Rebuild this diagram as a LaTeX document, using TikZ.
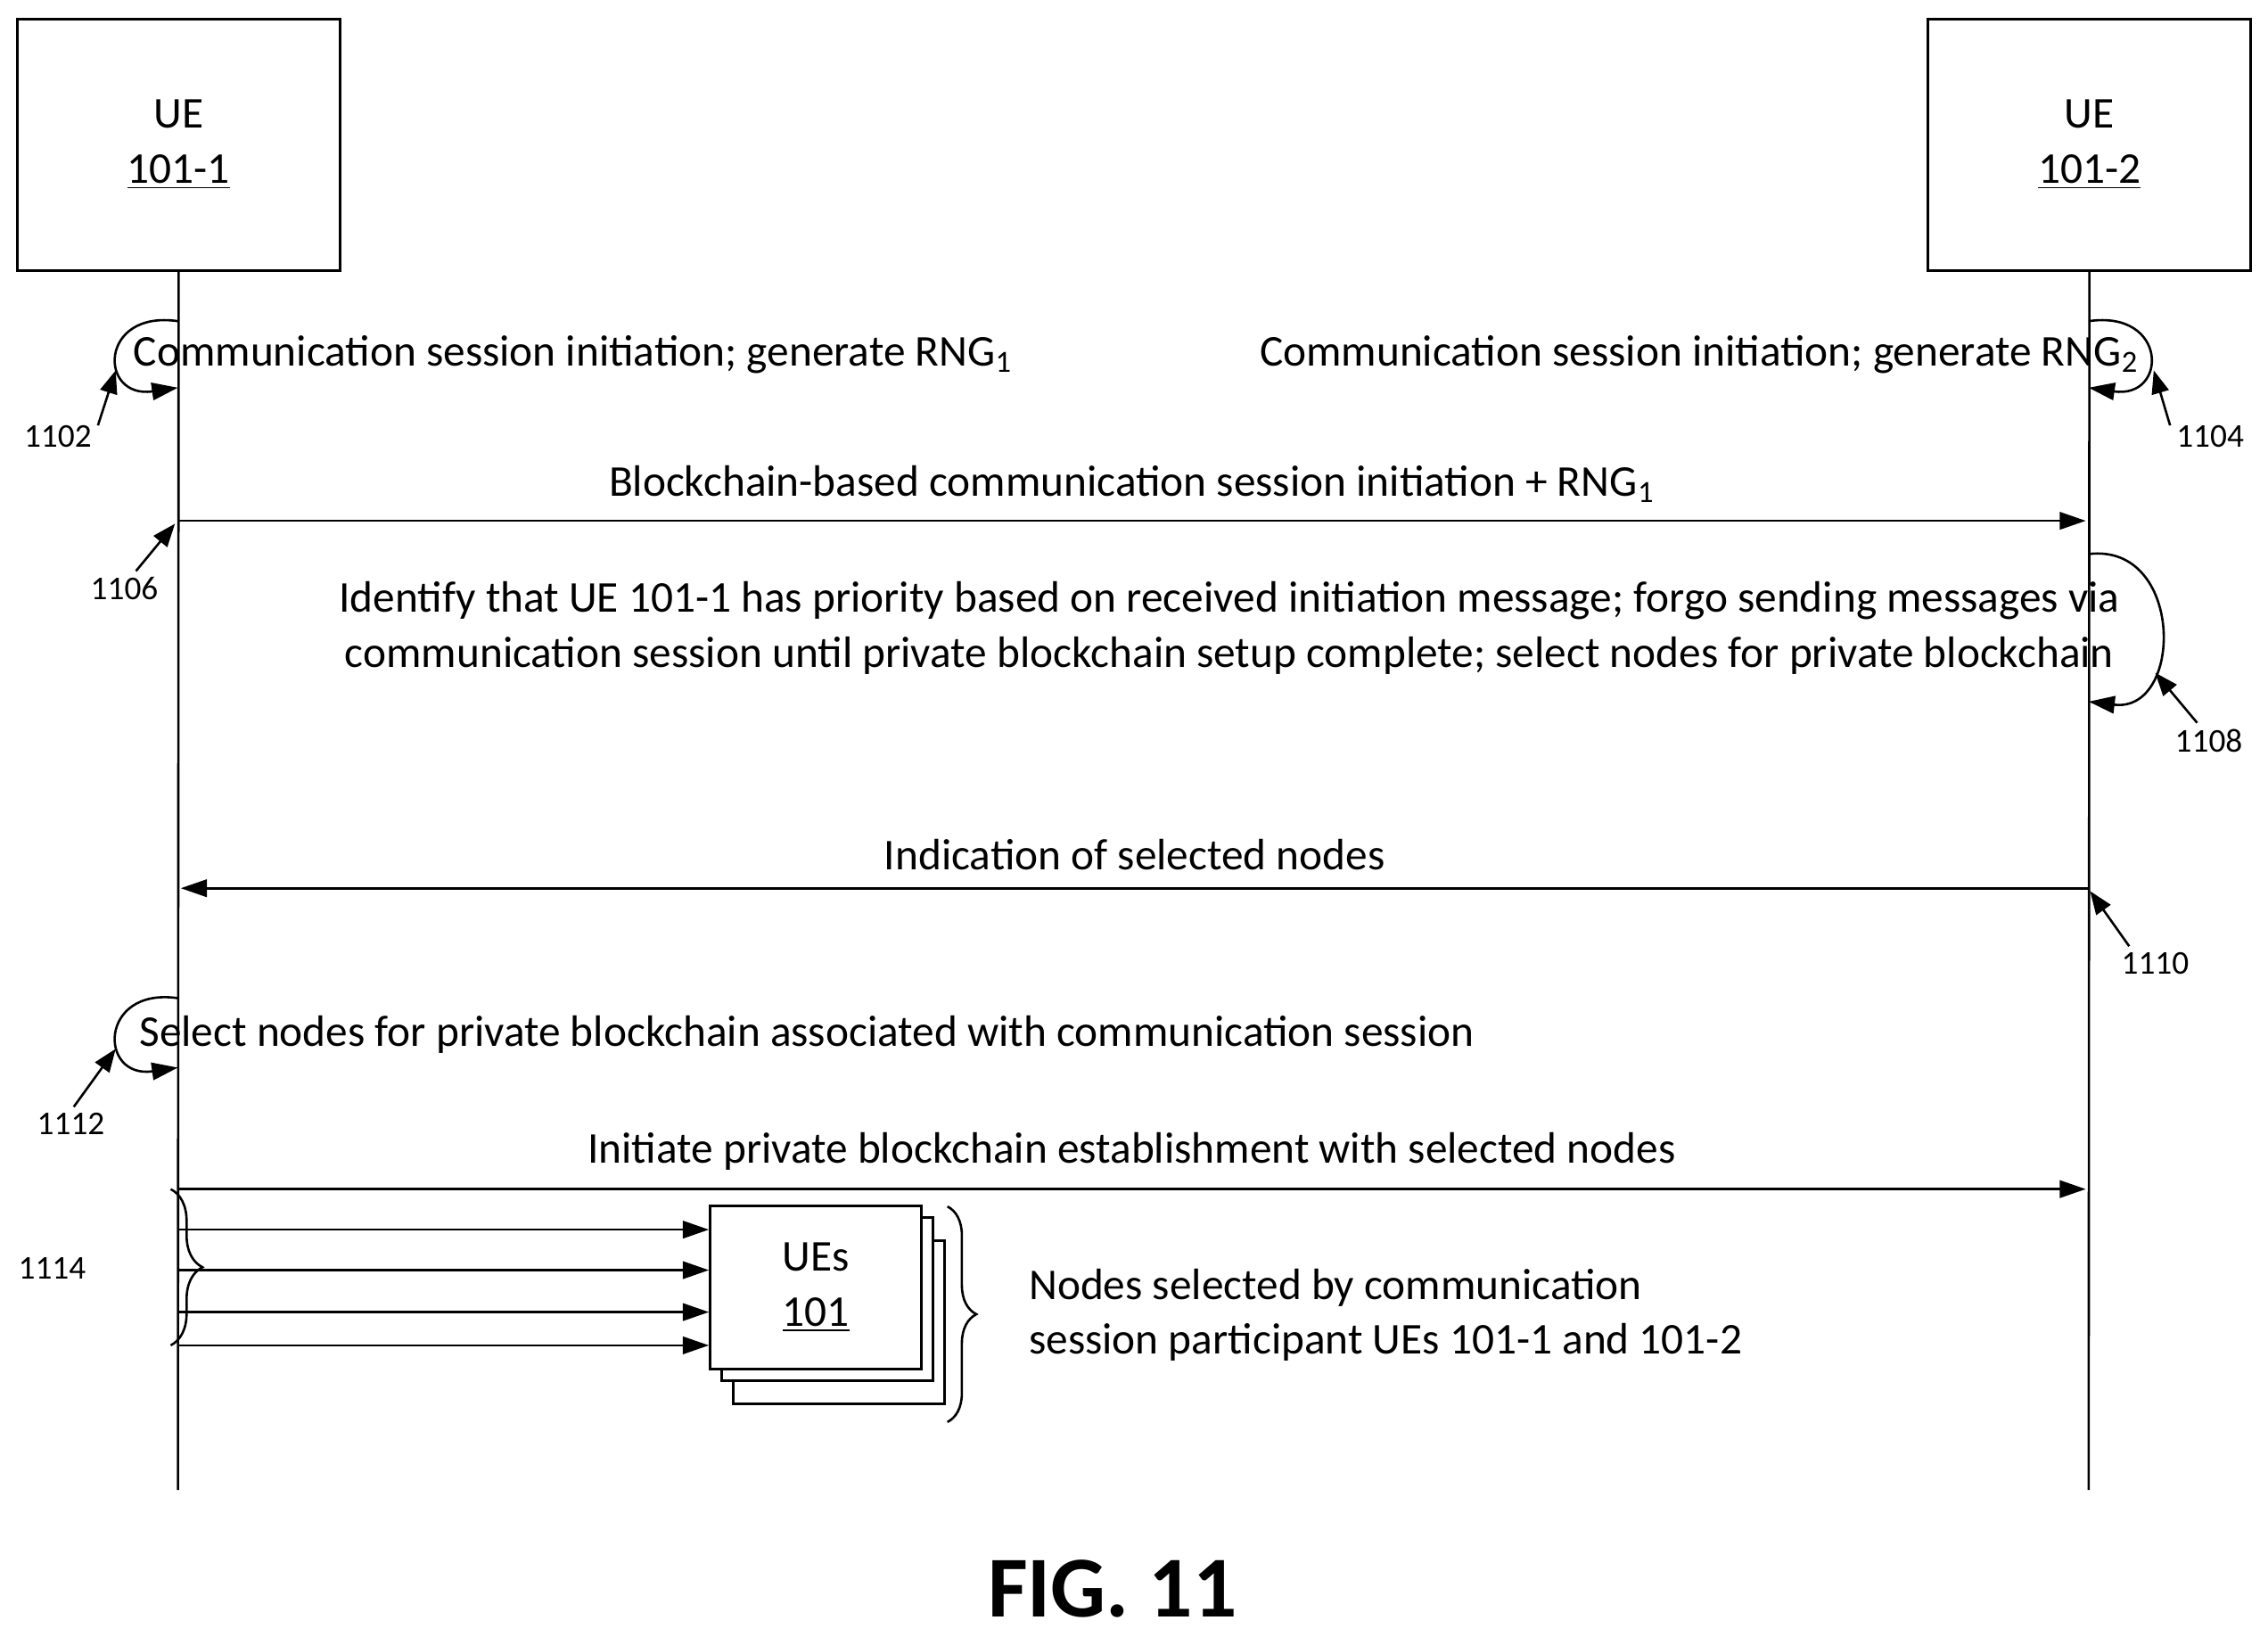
\documentclass[tikz,border=0pt]{standalone}
\usepackage{fontspec}
\setmainfont{Carlito}
\usetikzlibrary{arrows.meta,decorations.pathreplacing}
\tikzset{
  msg/.style={-{Triangle[length=9pt,width=6pt]},line width=0.8pt},
  refarr/.style={-{Triangle[length=8pt,width=6pt]},line width=0.8pt},
  lbl/.style={font=\fontsize{15.2}{19}\selectfont,inner sep=0pt},
  num/.style={font=\fontsize{11.5}{13}\selectfont,inner sep=0pt},
  ent/.style={draw,line width=0.9pt,minimum width=111.5pt,minimum height=87pt,align=center,font=\fontsize{15.2}{19}\selectfont}
}
\begin{document}
\begin{tikzpicture}[x=0.5pt,y=-0.5pt]
\useasboundingbox (0,0) rectangle (1568,1131);

% Entities
\node[ent] (ue1) at (123.5,100) {UE\\\underline{101-1}};
\node[ent] (ue2) at (1444.5,100) {UE\\\underline{101-2}};
\coordinate (l1end) at (123,1030);
\coordinate (l2end) at (1444,1030);
\draw[line width=0.8pt] (ue1.south) -- (l1end);
\draw[line width=0.8pt] (ue2.south) -- (l2end);

% 1102
\coordinate (a1) at (123,222); \coordinate (a2) at (123,268);
\draw[msg] (a1) .. controls (68,214) and (68,276) .. (a2);
\node[lbl,anchor=west] (t1102) at (92,245) {Communication session initiation; generate RNG\textsubscript{1}};
\node[num] (n1102) at (40,302) {1102};
\coordinate (p1102) at (80,256);
\draw[refarr] (n1102.north east) ++(4,0) coordinate (q1102) (q1102) -- (p1102);

% 1104
\coordinate (b1) at (1444,222); \coordinate (b2) at (1444,268);
\draw[msg] (b1) .. controls (1499,214) and (1499,276) .. (b2);
\node[lbl,anchor=east] (t1104) at (1479,245) {Communication session initiation; generate RNG\textsubscript{2}};
\node[num] (n1104) at (1528,302) {1104};
\coordinate (p1104) at (1489,256);
\draw[refarr] (n1104.north west) ++(-4,0) coordinate (q1104) (q1104) -- (p1104);

% 1106
\coordinate (m1s) at (123,360); \coordinate (m1e) at (1442,360);
\draw[msg] (m1s) -- (m1e) node[lbl,midway,above=6pt] {Blockchain-based communication session initiation + RNG\textsubscript{1}};
\node[num] (n1106) at (86,407) {1106};
\coordinate (p1106) at (121,362);
\draw[refarr] (n1106.north) ++(8,-4) coordinate (q1106) (q1106) -- (p1106);

% 1108
\coordinate (c1) at (1444,383); \coordinate (c2) at (1444,485);
\draw[msg] (c1) .. controls (1510,375) and (1510,493) .. (c2);
\node[lbl,align=center] (t1108) at (850,434) {Identify that UE 101-1 has priority based on received initiation message; forgo sending messages via\\communication session until private blockchain setup complete; select nodes for private blockchain};
\node[num] (n1108) at (1527,512) {1108};
\coordinate (p1108) at (1490,465);
\draw[refarr] (n1108.north) ++(-8,-4) coordinate (q1108) (q1108) -- (p1108);

% 1110
\coordinate (m2s) at (1444,614); \coordinate (m2e) at (125,614);
\draw[msg] (m2s) -- (m2e) node[lbl,midway,above=6pt] {Indication of selected nodes};
\node[num] (n1110) at (1490,666) {1110};
\coordinate (p1110) at (1445,616);
\draw[refarr] (n1110.north) ++(-18,-4) coordinate (q1110) (q1110) -- (p1110);

% 1112
\coordinate (d1) at (123,690); \coordinate (d2) at (123,738);
\draw[msg] (d1) .. controls (68,682) and (68,746) .. (d2);
\node[lbl,anchor=west] (t1112) at (96,715) {Select nodes for private blockchain associated with communication session};
\node[num] (n1112) at (49,777) {1112};
\coordinate (p1112) at (80,725);
\draw[refarr] (n1112.north) ++(2,-4) coordinate (q1112) (q1112) -- (p1112);

% 1114
\coordinate (m3s) at (123,822); \coordinate (m3e) at (1442,822);
\draw[msg] (m3s) -- (m3e) node[lbl,midway,above=6pt] {Initiate private blockchain establishment with selected nodes};
\node[draw,fill=white,line width=0.9pt,minimum width=73pt,minimum height=56.5pt] (ues3) at (580,914) {};
\node[draw,fill=white,line width=0.9pt,minimum width=73pt,minimum height=56.5pt] (ues2) at (572,898) {};
\node[draw,fill=white,line width=0.9pt,minimum width=73pt,minimum height=56.5pt,align=center,font=\fontsize{15.2}{19}\selectfont] (ues) at (564,890) {UEs\\\underline{101}};
\foreach \y in {850,878,907,930}
  \draw[msg] (123,\y) -- (ues.west |- 0,\y);
\draw[line width=0.8pt,decorate,decoration={brace,amplitude=11pt}] (118,822) -- (118,930);
\node[num] (n1114) at (36,877) {1114};
\draw[line width=0.8pt,decorate,decoration={brace,amplitude=10pt}] (655,834) -- (655,983);
\node[lbl,anchor=west,align=left] (tsel) at (711,909) {Nodes selected by communication\\session participant UEs 101-1 and 101-2};

% Title
\node[font=\fontsize{30}{34}\selectfont\bfseries] (fig) at (769,1098) {FIG. 11};
\end{tikzpicture}
\end{document}
